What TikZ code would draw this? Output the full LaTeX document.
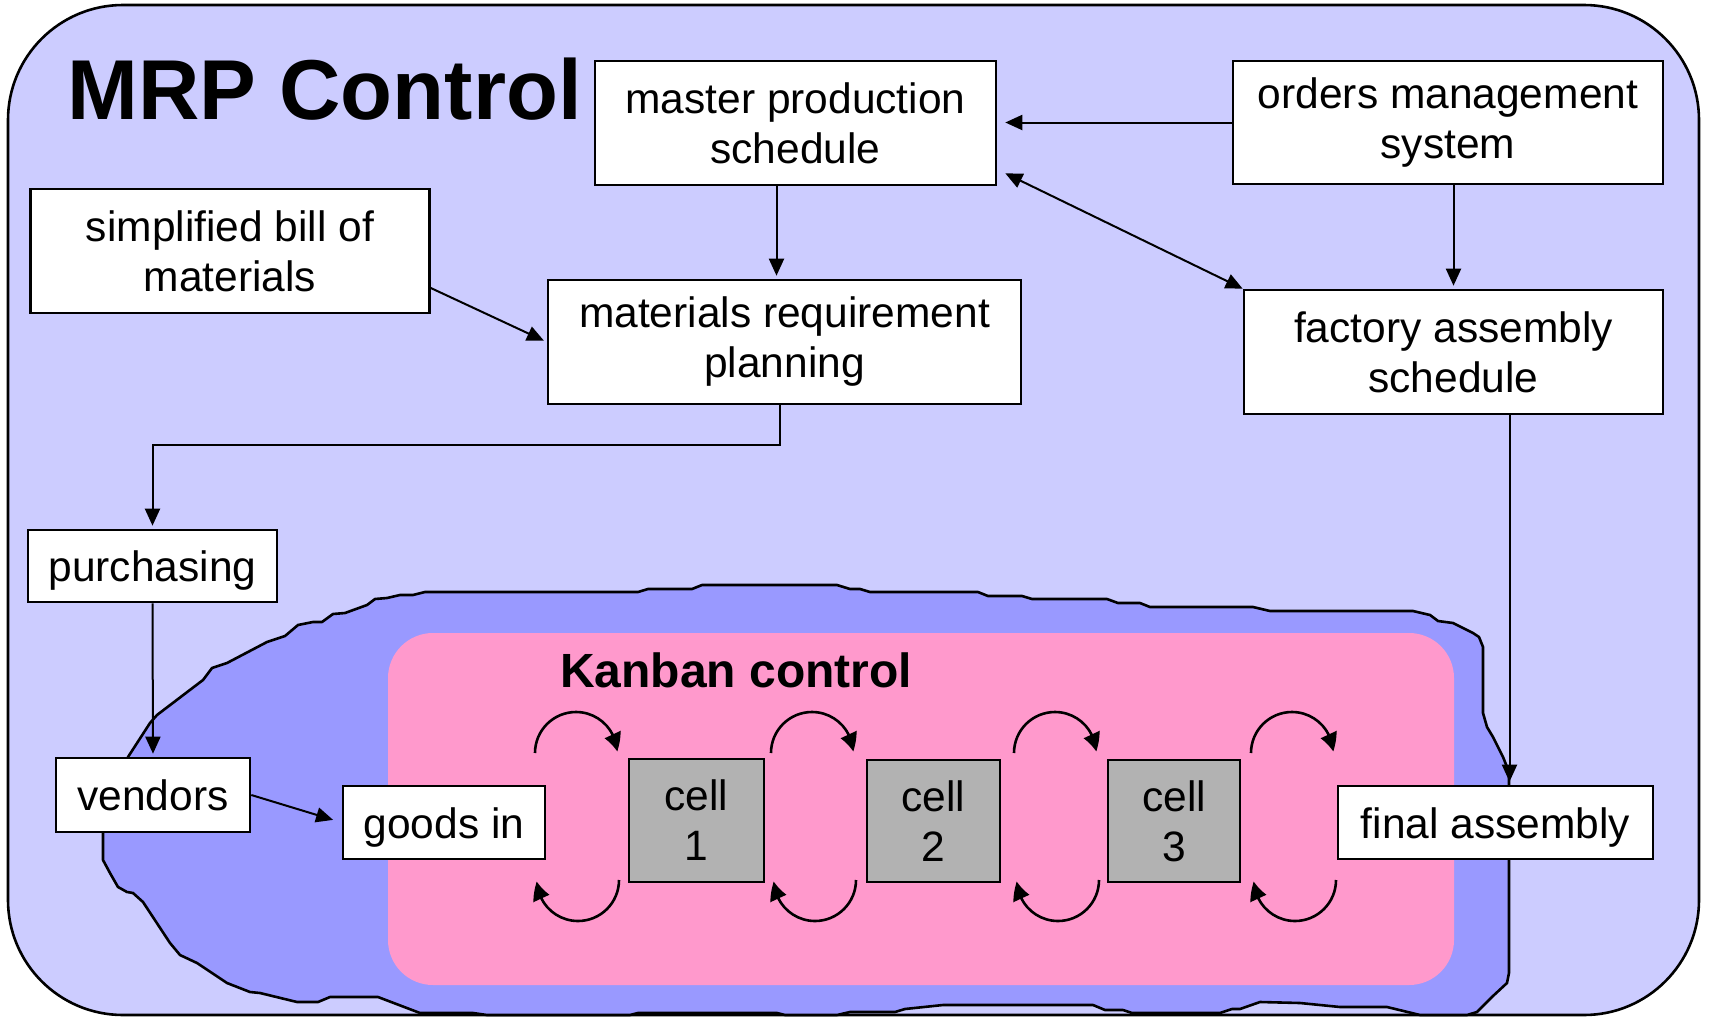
\documentclass[tikz,border=0pt]{standalone}
\usepackage{fontspec}
\setmainfont{Liberation Sans}
\usetikzlibrary{arrows.meta,bending,calc}

\definecolor{mrpback}{HTML}{CCCCFF}
\definecolor{shopblob}{HTML}{9999FF}
\definecolor{kanbanpink}{HTML}{FF99CC}
\definecolor{cellgray}{HTML}{B2B2B2}

\newcommand\boxstrut{\rule[-9pt]{0pt}{49pt}}

\begin{document}
\begin{tikzpicture}[
    x=1pt, y=-1pt,
    twoline/.style={draw, line width=2.6pt, fill=white, inner sep=0pt, align=center,
      font=\fontsize{42.5}{50}\selectfont},
    block/.style={twoline, execute at begin node=\boxstrut, execute at end node=\boxstrut},
    cellblock/.style={twoline, fill=cellgray},
    edge/.style={line width=2pt, -{Triangle[length=17pt,width=15pt]}, shorten >=3pt},
    twoway/.style={line width=2pt, {Triangle[length=17pt,width=15pt]}-{Triangle[length=17pt,width=15pt]}},
    cyclearc/.style={line width=2.6pt, -{Triangle[length=18pt,width=17pt,bend]}},
    title/.style={font=\fontsize{85}{90}\selectfont\bfseries, anchor=base west, inner sep=0pt},
    subtitle/.style={font=\fontsize{48}{50}\selectfont\bfseries, anchor=base west, inner sep=0pt},
]
\useasboundingbox (0,0) rectangle (1709,1023);

% Background areas
\draw[line width=2.6pt, fill=mrpback, rounded corners=115pt] (8,5) rectangle (1699,1015);

\draw[line width=2.6pt, fill=shopblob, line join=round]
  (103,800) -- (103,860) -- (110,873) -- (118,887) -- (127,892) -- (133,893) -- (143,902)
  -- (170,943) -- (180,955) -- (197,963) -- (227,983) -- (250,992) -- (260,993) -- (297,1002)
  -- (318,1002) -- (330,997) -- (378,997) -- (420,1013) -- (473,1013) -- (487,1015)
  -- (630,1015) -- (638,1013) -- (777,1013) -- (785,1015) -- (837,1015) -- (850,1012)
  -- (895,1012) -- (905,1009) -- (943,1005) -- (1093,1005) -- (1105,1010) -- (1123,1010)
  -- (1132,1013) -- (1220,1013) -- (1232,1009) -- (1240,1009) -- (1260,1002) -- (1300,1003)
  -- (1340,1007) -- (1387,1007) -- (1420,1015) -- (1467,1015) -- (1477,1012) -- (1493,996)
  -- (1507,983) -- (1509,973) -- (1509,772) -- (1503,757) -- (1493,737) -- (1487,727)
  -- (1483,713) -- (1483,647) -- (1479,637) -- (1473,633) -- (1463,628) -- (1453,623)
  -- (1438,621) -- (1430,615) -- (1413,611) -- (1270,611) -- (1253,607) -- (1150,607)
  -- (1140,603) -- (1118,603) -- (1107,599) -- (1032,599) -- (1022,596) -- (988,596)
  -- (978,592) -- (870,592) -- (860,589) -- (850,589) -- (837,585) -- (702,585)
  -- (692,589) -- (648,589) -- (638,592) -- (425,592) -- (413,595) -- (400,595)
  -- (387,598) -- (375,599) -- (367,605) -- (345,613) -- (333,614) -- (322,622)
  -- (313,622) -- (298,625) -- (285,636) -- (267,642) -- (227,663) -- (212,668)
  -- (203,680) -- (157,715) -- (150,723) -- (128,757) -- (128,780) -- cycle;

\fill[kanbanpink, rounded corners=45pt] (388,633) rectangle (1454,985);

\node[title] (mrptitle) at (67,119) {MRP Control};
\node[subtitle] (kanbantitle) at (560,687) {Kanban control};

% Planning level
\node[twoline, minimum width=401pt, minimum height=124pt] (master) at (795.5,123) {master production\\schedule};
\node[twoline, minimum width=430pt, minimum height=123pt] (orders) at (1448,122.5) {orders management\\system};
\node[twoline, minimum width=399pt, minimum height=124pt] (bill) at (230,251) {simplified bill of\\materials};
\node[twoline, minimum width=473pt, minimum height=124pt] (mrp) at (784.5,342) {materials requirement\\planning};
\node[twoline, minimum width=419pt, minimum height=124pt] (factory) at (1453.5,352) {factory assembly\\schedule};
\node[block, minimum width=249pt, minimum height=72pt] (purch) at (152.5,566) {purchasing};

% Shop floor
\node[block, minimum width=194pt, minimum height=74pt] (vendors) at (153,795) {vendors};
\node[block, minimum width=202pt, minimum height=73pt] (goods) at (444,822.5) {goods in};
\node[cellblock, minimum width=135pt, minimum height=123pt] (cell1) at (696.5,820.5) {cell\\1};
\node[cellblock, minimum width=133pt, minimum height=122pt] (cell2) at (933.5,821) {cell\\2};
\node[cellblock, minimum width=132pt, minimum height=122pt] (cell3) at (1174,821) {cell\\3};
\node[block, minimum width=315pt, minimum height=73pt] (final) at (1495.5,822.5) {final assembly};

\draw[edge] (orders.west) -- ([xshift=5pt]orders.west -| master.east);
\draw[twoway] (factory.north west) -- ([xshift=8pt,yshift=13pt]master.south east);
\draw[edge] ([xshift=-19pt]master.south) -- ([xshift=-19pt]master.south |- mrp.north);
\draw[edge] ([yshift=-37pt]bill.east) -- (mrp.west);
\draw[edge] (factory.north |- orders.south) -- (factory.north);
\draw[edge] ([xshift=-5pt]mrp.south) -- ++(0,40) -| (purch.north);
\draw[edge] (purch.south) -- (vendors.north);
\draw[edge, shorten >=9pt] (vendors.east) -- (goods.west);
\draw[edge] ([xshift=14pt]final.north |- factory.south) -- ([xshift=14pt]final.north);

% Kanban loops between cells
\foreach \tx/\bx in {576/578, 812/815, 1055/1058, 1292/1295} {
  \draw[cyclearc] (\tx-41,753) arc[start angle=180, end angle=358, radius=41];
  \draw[cyclearc] (\bx+41,880) arc[start angle=0, end angle=178, radius=41];
}

\end{tikzpicture}
\end{document}
